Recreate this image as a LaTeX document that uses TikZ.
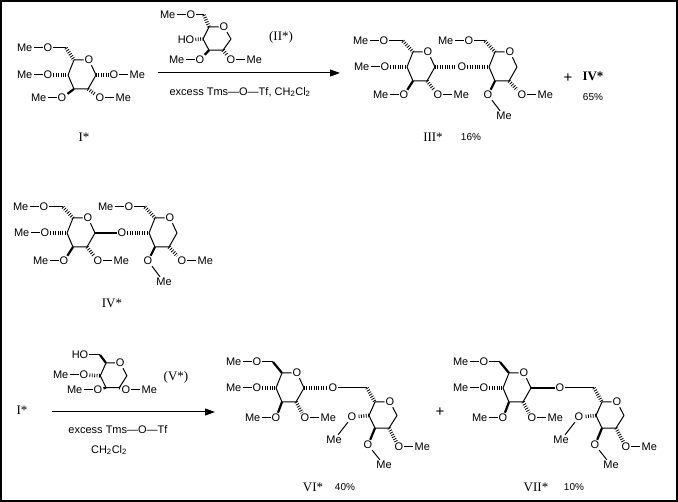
\documentclass[tikz,border=0pt]{standalone}
\usepackage{fontspec}
\setmainfont{Liberation Sans}
\newfontfamily\rmn{Liberation Serif}
\usetikzlibrary{positioning,arrows.meta}
\tikzset{
 bond/.style={line width=1pt},
 hashb/.style={line width=3.6pt, dash pattern=on 0.8pt off 1.6pt},
 boldb/.style={line width=2.2pt},
 atom/.style={font=\fontsize{11}{13}\selectfont, inner sep=1pt, text height=8pt, text depth=0pt},
 lbl/.style={font=\fontsize{13}{15}\selectfont\rmn, inner sep=0pt},
 pct/.style={font=\fontsize{10}{12}\selectfont, inner sep=0pt},
 cond/.style={font=\fontsize{11}{13}\selectfont, inner sep=0pt},
 rxn/.style={line width=1pt, -{Triangle[length=10pt,width=7pt]}},
}
\newcommand{\ring}[4]{%
 \begin{scope}[shift={(#2,#3)},#4]
  \coordinate (#1-5) at (0,0);
  \node[atom] (#1-o) at (15,0) {O};
  \coordinate (#1-1) at (22,15);
  \coordinate (#1-2) at (14,29);
  \coordinate (#1-3) at (0,29);
  \coordinate (#1-4) at (-6,15);
 \end{scope}
 \draw[bond,line join=round] (#1-o) -- (#1-1) -- (#1-2) -- (#1-3) -- (#1-4) -- (#1-5) -- (#1-o);}
\newcommand{\MeO}[3]{\node[atom] (#1) at (#2,#3) {O};
 \node[atom,left=9pt of #1] (#1m) {Me}; \draw[bond] (#1m) -- (#1);}
\newcommand{\OMe}[3]{\node[atom] (#1) at (#2,#3) {O};
 \node[atom,right=9pt of #1] (#1m) {Me}; \draw[bond] (#1) -- (#1m);}
% disaccharide III*/IV*
\newcommand{\prodA}[4]{%
\begin{scope}[shift={(#2,#3)}]
 \ring{#1r}{413}{52}{}
 \ring{#1s}{495}{52}{}
 \coordinate (#1c6) at (403,41);
 \MeO{#1a}{384}{41}
 \draw[bond] (#1a) -- (#1c6);
 \draw[hashb] (#1c6) -- (#1r-5);
 \MeO{#1b}{385}{67}
 \draw[hashb] (#1b) -- (#1r-4);
 \MeO{#1c}{404}{95}
 \draw[boldb] (#1r-3) -- (#1c);
 \OMe{#1d}{438}{95}
 \draw[hashb] (#1r-2) -- (#1d);
 \node[atom] (#1g) at (462,67) {O};
 \draw[#4] (#1r-1) -- (#1g);
 \draw[hashb] (#1g) -- (#1s-4);
 \coordinate (#1e6) at (485,41);
 \MeO{#1e}{469}{41}
 \draw[bond] (#1e) -- (#1e6);
 \draw[hashb] (#1e6) -- (#1s-5);
 \node[atom] (#1h) at (488,95) {O};
 \node[atom] (#1hm) at (504,116) {Me};
 \draw[boldb] (#1s-3) -- (#1h);
 \draw[bond] (#1h) -- (#1hm);
 \OMe{#1k}{522}{95}
 \draw[hashb] (#1s-2) -- (#1k);
\end{scope}}
% disaccharide VI*/VII*
\newcommand{\prodB}[3]{%
\begin{scope}[xshift=#2]
 \ring{#1r}{282}{373}{}
 \ring{#1s}{375}{402}{yscale=0.9}
 \coordinate (#1c6) at (273,362);
 \MeO{#1a}{257}{362}
 \draw[bond] (#1a) -- (#1c6);
 \draw[boldb] (#1c6) -- (#1r-5);
 \MeO{#1b}{257}{388}
 \draw[hashb] (#1b) -- (#1r-4);
 \MeO{#1c}{276}{418}
 \draw[boldb] (#1r-3) -- (#1c);
 \OMe{#1d}{305}{418}
 \draw[hashb] (#1r-2) -- (#1d);
 \node[atom] (#1g) at (333,388) {O};
 \draw[#3] (#1r-1) -- (#1g);
 \coordinate (#1e6) at (367,388);
 \draw[bond] (#1g) -- (#1e6);
 \draw[hashb] (#1e6) -- (#1s-5);
 \node[atom] (#1f) at (352,417) {O};
 \node[atom] (#1fm) at (334,440) {Me};
 \draw[hashb] (#1s-4) -- (#1f);
 \draw[bond] (#1f) -- (#1fm);
 \node[atom] (#1h) at (368,445) {O};
 \node[atom] (#1hm) at (384,465) {Me};
 \draw[boldb] (#1s-3) -- (#1h);
 \draw[bond] (#1h) -- (#1hm);
 \OMe{#1k}{399}{447}
 \draw[hashb] (#1s-2) -- (#1k);
\end{scope}}
\begin{document}
\begin{tikzpicture}[x=1pt,y=-1pt]
\useasboundingbox (0,0) rectangle (678,502);
\draw[line width=1.4pt] (1,1) rectangle (677,501);
% ---- I*
\ring{i}{74}{60}{}
\coordinate (ic6) at (66,48);
\MeO{ia}{48}{48}
\draw[bond] (ia) -- (ic6);
\draw[hashb] (ic6) -- (i-5);
\MeO{ib}{48}{75}
\draw[hashb] (ib) -- (i-4);
\MeO{ic}{62}{98}
\draw[boldb] (i-3) -- (ic);
\OMe{id}{114}{75}
\draw[hashb] (i-1) -- (id);
\OMe{ie}{100}{98}
\draw[hashb] (i-2) -- (ie);
\node[lbl] (lI) at (84,137) {I*};
% ---- arrow 1 and II*
\coordinate (ar1s) at (158,73);
\coordinate (ar1e) at (340,73);
\draw[rxn] (ar1s) -- (ar1e);
\ring{ii}{209}{27}{yscale=0.8}
\coordinate (iic6) at (204,15);
\MeO{iia}{191}{15}
\draw[bond] (iia) -- (iic6);
\draw[hashb] (iic6) -- (ii-5);
\node[atom] (iiho) at (186,40) {HO};
\draw[hashb] (iiho) -- (ii-4);
\MeO{iic}{200}{60}
\draw[boldb] (ii-3) -- (iic);
\OMe{iid}{231}{60}
\draw[hashb] (ii-2) -- (iid);
\node[lbl] (lII) at (281,37) {(II*)};
\node[cond] (c1) at (240,92) {excess Tms—O—Tf, CH\textsubscript{2}Cl\textsubscript{2}};
% ---- III*
\prodA{t}{0}{0}{hashb}
\node[lbl] (lIII) at (433,137) {III*};
\node[pct] (p16) at (471,137) {16\%};
\node[font=\fontsize{15}{17}\selectfont, inner sep=0pt] (plus1) at (568,78) {+};
\node[lbl,font=\fontsize{13}{15}\selectfont\rmn\bfseries] (lIVb) at (593,76) {IV*};
\node[pct] (p65) at (593,97) {65\%};
% ---- IV*
\prodA{f}{-340}{166}{boldb}
\node[lbl] (lIV) at (112,303) {IV*};
% ---- bottom reaction
\node[lbl] (lIb) at (22,410) {I*};
\coordinate (ar2s) at (52,412);
\coordinate (ar2e) at (215,412);
\draw[rxn] (ar2s) -- (ar2e);
\ring{v}{106}{363}{xscale=0.95,yscale=0.85}
\node[atom] (vho) at (80,355) {HO};
\coordinate (vc6) at (100,355);
\draw[bond] (vho) -- (vc6);
\draw[boldb] (vc6) -- (v-5);
\MeO{vb}{84}{375}
\draw[hashb] (vb) -- (v-4);
\MeO{vc}{98}{390}
\draw[boldb] (v-3) -- (vc);
\OMe{vd}{126}{390}
\draw[hashb] (v-2) -- (vd);
\node[lbl] (lV) at (176,377) {(V*)};
\node[cond] (c2) at (118,430) {excess Tms—O—Tf};
\node[cond] (c3) at (109,450) {CH\textsubscript{2}Cl\textsubscript{2}};
% ---- VI* and VII*
\prodB{x}{0}{hashb}
\node[lbl] (lVI) at (313,487) {VI*};
\node[pct] (p40) at (345,487) {40\%};
\node[font=\fontsize{15}{17}\selectfont, inner sep=0pt] (plus2) at (440,412) {+};
\prodB{y}{227}{boldb}
\node[lbl] (lVII) at (536,487) {VII*};
\node[pct] (p10) at (574,487) {10\%};
\end{tikzpicture}
\end{document}
